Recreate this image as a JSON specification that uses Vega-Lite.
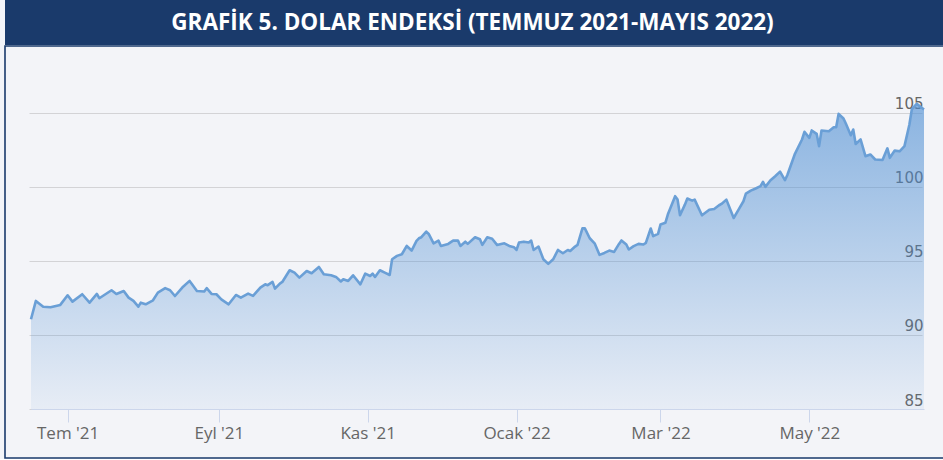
{
  "$schema": "https://vega.github.io/schema/vega-lite/v6.json",
  "background": "#f3f4f8",
  "padding": {"left": 4, "top": 0, "right": 0, "bottom": 0},
  "spacing": 0,
  "vconcat": [
    {
      "width": 943,
      "height": 45,
      "view": {"fill": "#1a3a6b", "stroke": null},
      "data": {"values": [{"t": "GRAFİK 5. DOLAR ENDEKSİ (TEMMUZ 2021-MAYIS 2022)"}]},
      "mark": {"type": "text", "color": "#ffffff", "font": "Open Sans", "fontWeight": "bold", "fontSize": 22.5, "baseline": "middle", "align": "center", "dx": -4},
      "encoding": {"text": {"field": "t"}}
    },
    {
      "width": 943,
      "height": 412,
      "view": {"stroke": "#1a3a6b", "strokeWidth": 1.6, "fill": null},
      "data": {"values": [
        {"d": "2021-06-16", "v": 91.06}, {"d": "2021-06-18", "v": 92.30}, {"d": "2021-06-21", "v": 91.90}, {"d": "2021-06-24", "v": 91.87},
        {"d": "2021-06-28", "v": 92.03}, {"d": "2021-07-01", "v": 92.68}, {"d": "2021-07-03", "v": 92.25}, {"d": "2021-07-07", "v": 92.75},
        {"d": "2021-07-10", "v": 92.18}, {"d": "2021-07-13", "v": 92.77}, {"d": "2021-07-14", "v": 92.48}, {"d": "2021-07-19", "v": 93.02},
        {"d": "2021-07-21", "v": 92.77}, {"d": "2021-07-24", "v": 92.97}, {"d": "2021-07-26", "v": 92.52}, {"d": "2021-07-28", "v": 92.30},
        {"d": "2021-07-30", "v": 91.91}, {"d": "2021-07-31", "v": 92.18}, {"d": "2021-08-02", "v": 92.07}, {"d": "2021-08-05", "v": 92.34},
        {"d": "2021-08-07", "v": 92.86}, {"d": "2021-08-10", "v": 93.16}, {"d": "2021-08-12", "v": 93.02}, {"d": "2021-08-14", "v": 92.63},
        {"d": "2021-08-17", "v": 93.20}, {"d": "2021-08-20", "v": 93.65}, {"d": "2021-08-21", "v": 93.43}, {"d": "2021-08-23", "v": 92.97},
        {"d": "2021-08-26", "v": 92.93}, {"d": "2021-08-27", "v": 93.16}, {"d": "2021-08-29", "v": 92.77}, {"d": "2021-08-31", "v": 92.75},
        {"d": "2021-09-02", "v": 92.40}, {"d": "2021-09-05", "v": 92.07}, {"d": "2021-09-08", "v": 92.70}, {"d": "2021-09-10", "v": 92.52},
        {"d": "2021-09-13", "v": 92.79}, {"d": "2021-09-15", "v": 92.64}, {"d": "2021-09-18", "v": 93.20}, {"d": "2021-09-20", "v": 93.42},
        {"d": "2021-09-21", "v": 93.36}, {"d": "2021-09-23", "v": 93.58}, {"d": "2021-09-24", "v": 93.13}, {"d": "2021-09-26", "v": 93.47},
        {"d": "2021-09-27", "v": 93.58}, {"d": "2021-09-30", "v": 94.37}, {"d": "2021-10-02", "v": 94.21}, {"d": "2021-10-04", "v": 93.87},
        {"d": "2021-10-07", "v": 94.32}, {"d": "2021-10-09", "v": 94.17}, {"d": "2021-10-12", "v": 94.59}, {"d": "2021-10-14", "v": 94.10},
        {"d": "2021-10-17", "v": 94.03}, {"d": "2021-10-19", "v": 93.92}, {"d": "2021-10-21", "v": 93.61}, {"d": "2021-10-22", "v": 93.76},
        {"d": "2021-10-24", "v": 93.65}, {"d": "2021-10-26", "v": 94.03}, {"d": "2021-10-29", "v": 93.42}, {"d": "2021-10-31", "v": 94.14},
        {"d": "2021-11-02", "v": 93.98}, {"d": "2021-11-03", "v": 94.14}, {"d": "2021-11-04", "v": 93.92}, {"d": "2021-11-06", "v": 94.37},
        {"d": "2021-11-08", "v": 94.21}, {"d": "2021-11-10", "v": 94.05}, {"d": "2021-11-11", "v": 95.11}, {"d": "2021-11-13", "v": 95.34},
        {"d": "2021-11-15", "v": 95.45}, {"d": "2021-11-17", "v": 96.01}, {"d": "2021-11-19", "v": 95.70}, {"d": "2021-11-21", "v": 96.35},
        {"d": "2021-11-22", "v": 96.53}, {"d": "2021-11-23", "v": 96.60}, {"d": "2021-11-25", "v": 96.98}, {"d": "2021-11-26", "v": 96.82},
        {"d": "2021-11-28", "v": 96.19}, {"d": "2021-11-30", "v": 96.37}, {"d": "2021-12-01", "v": 96.01}, {"d": "2021-12-04", "v": 96.15},
        {"d": "2021-12-06", "v": 96.37}, {"d": "2021-12-08", "v": 96.37}, {"d": "2021-12-09", "v": 96.01}, {"d": "2021-12-11", "v": 96.30},
        {"d": "2021-12-12", "v": 96.15}, {"d": "2021-12-15", "v": 96.60}, {"d": "2021-12-17", "v": 96.46}, {"d": "2021-12-18", "v": 96.08},
        {"d": "2021-12-20", "v": 96.60}, {"d": "2021-12-22", "v": 96.50}, {"d": "2021-12-24", "v": 96.08}, {"d": "2021-12-27", "v": 96.19},
        {"d": "2021-12-29", "v": 96.01}, {"d": "2021-12-31", "v": 95.92}, {"d": "2022-01-01", "v": 95.74}, {"d": "2022-01-02", "v": 96.24},
        {"d": "2022-01-04", "v": 96.30}, {"d": "2022-01-06", "v": 96.24}, {"d": "2022-01-07", "v": 96.37}, {"d": "2022-01-08", "v": 95.74},
        {"d": "2022-01-10", "v": 95.97}, {"d": "2022-01-12", "v": 95.11}, {"d": "2022-01-14", "v": 94.80}, {"d": "2022-01-16", "v": 95.11},
        {"d": "2022-01-18", "v": 95.74}, {"d": "2022-01-20", "v": 95.52}, {"d": "2022-01-22", "v": 95.74}, {"d": "2022-01-23", "v": 95.67},
        {"d": "2022-01-25", "v": 95.97}, {"d": "2022-01-26", "v": 96.08}, {"d": "2022-01-28", "v": 97.20}, {"d": "2022-01-29", "v": 97.20},
        {"d": "2022-01-31", "v": 96.53}, {"d": "2022-02-02", "v": 96.19}, {"d": "2022-02-04", "v": 95.41}, {"d": "2022-02-06", "v": 95.54},
        {"d": "2022-02-08", "v": 95.70}, {"d": "2022-02-10", "v": 95.61}, {"d": "2022-02-12", "v": 96.15}, {"d": "2022-02-13", "v": 96.38},
        {"d": "2022-02-15", "v": 96.11}, {"d": "2022-02-16", "v": 95.77}, {"d": "2022-02-18", "v": 96.00}, {"d": "2022-02-20", "v": 96.15},
        {"d": "2022-02-22", "v": 96.11}, {"d": "2022-02-23", "v": 96.22}, {"d": "2022-02-25", "v": 97.19}, {"d": "2022-02-26", "v": 96.67},
        {"d": "2022-02-28", "v": 96.83}, {"d": "2022-03-01", "v": 97.46}, {"d": "2022-03-03", "v": 97.57}, {"d": "2022-03-04", "v": 98.13},
        {"d": "2022-03-07", "v": 99.37}, {"d": "2022-03-08", "v": 99.14}, {"d": "2022-03-09", "v": 98.08}, {"d": "2022-03-11", "v": 98.80},
        {"d": "2022-03-12", "v": 99.21}, {"d": "2022-03-14", "v": 99.07}, {"d": "2022-03-15", "v": 99.14}, {"d": "2022-03-18", "v": 98.08},
        {"d": "2022-03-21", "v": 98.46}, {"d": "2022-03-23", "v": 98.51}, {"d": "2022-03-25", "v": 98.76}, {"d": "2022-03-26", "v": 98.85},
        {"d": "2022-03-28", "v": 99.14}, {"d": "2022-03-31", "v": 97.90}, {"d": "2022-04-02", "v": 98.46}, {"d": "2022-04-04", "v": 99.03},
        {"d": "2022-04-05", "v": 99.55}, {"d": "2022-04-07", "v": 99.75}, {"d": "2022-04-09", "v": 99.89}, {"d": "2022-04-11", "v": 100.05},
        {"d": "2022-04-12", "v": 100.34}, {"d": "2022-04-13", "v": 100.00}, {"d": "2022-04-15", "v": 100.43}, {"d": "2022-04-17", "v": 100.72},
        {"d": "2022-04-19", "v": 101.03}, {"d": "2022-04-21", "v": 100.45}, {"d": "2022-04-22", "v": 100.80}, {"d": "2022-04-25", "v": 102.19},
        {"d": "2022-04-28", "v": 103.20}, {"d": "2022-04-29", "v": 103.72}, {"d": "2022-05-01", "v": 103.31}, {"d": "2022-05-02", "v": 103.81},
        {"d": "2022-05-04", "v": 103.58}, {"d": "2022-05-05", "v": 102.75}, {"d": "2022-05-06", "v": 103.81}, {"d": "2022-05-09", "v": 103.76},
        {"d": "2022-05-11", "v": 104.03}, {"d": "2022-05-12", "v": 104.03}, {"d": "2022-05-13", "v": 104.93}, {"d": "2022-05-15", "v": 104.62},
        {"d": "2022-05-16", "v": 104.26}, {"d": "2022-05-18", "v": 103.49}, {"d": "2022-05-19", "v": 103.87}, {"d": "2022-05-20", "v": 102.90},
        {"d": "2022-05-22", "v": 103.20}, {"d": "2022-05-24", "v": 102.07}, {"d": "2022-05-26", "v": 102.19}, {"d": "2022-05-28", "v": 101.85},
        {"d": "2022-05-31", "v": 101.81}, {"d": "2022-06-02", "v": 102.60}, {"d": "2022-06-03", "v": 101.96}, {"d": "2022-06-05", "v": 102.45},
        {"d": "2022-06-07", "v": 102.40}, {"d": "2022-06-09", "v": 102.75}, {"d": "2022-06-11", "v": 104.20}, {"d": "2022-06-12", "v": 105.23},
        {"d": "2022-06-14", "v": 105.61}, {"d": "2022-06-17", "v": 105.23}
      ]},
      "encoding": {
        "x": {
          "field": "d", "type": "temporal",
          "scale": {"type": "utc", "domain": [{"year": 2021, "month": 6, "date": 16, "utc": true}, {"year": 2022, "month": 6, "date": 17, "utc": true}], "nice": false, "range": [26, 919]},
          "axis": {
            "orient": "bottom", "title": null, "grid": false, "offset": -49,
            "values": [
              {"year": 2021, "month": 7, "date": 1, "utc": true},
              {"year": 2021, "month": 9, "date": 1, "utc": true},
              {"year": 2021, "month": 11, "date": 1, "utc": true},
              {"year": 2022, "month": 1, "date": 1, "utc": true},
              {"year": 2022, "month": 3, "date": 1, "utc": true},
              {"year": 2022, "month": 5, "date": 1, "utc": true}
            ],
            "labelExpr": "['Ocak','Şub','Mar','Nis','May','Haz','Tem','Ağu','Eyl','Eki','Kas','Ara'][utcmonth(datum.value)] + \" '\" + utcFormat(datum.value, '%y')",
            "domainColor": "#ccd6eb", "domainWidth": 1,
            "tickColor": "#ccd6eb", "tickSize": 13, "tickWidth": 1,
            "labelFont": "Open Sans", "labelFontSize": 17, "labelColor": "#666666",
            "labelBaseline": "alphabetic", "labelPadding": 16,
            "labelFlush": false, "labelOverlap": false,
            "minExtent": 0, "maxExtent": 0
          }
        },
        "y": {
          "field": "v", "type": "quantitative", "stack": null,
          "scale": {"domain": [85, 108.5], "nice": false, "zero": false, "range": [363, 15]},
          "axis": {
            "orient": "right", "title": null,
            "values": [85, 90, 95, 100, 105],
            "grid": true, "gridColor": "#d3d3d6", "gridWidth": 1.2,
            "domain": false, "ticks": false, "tickSize": 0,
            "labelAlign": "right", "labelPadding": -25, "labelBaseline": "alphabetic", "labelOffset": -4,
            "labelFont": "DejaVu Sans", "labelFontSize": 15, "labelColor": "#666666",
            "labelFlush": false, "labelOverlap": false,
            "minExtent": 0, "maxExtent": 0
          }
        }
      },
      "layer": [
        {
          "mark": {
            "type": "area",
            "opacity": 1,
            "fill": {
              "gradient": "linear", "x1": 0, "x2": 0, "y1": 0, "y2": 1,
              "stops": [
                {"offset": 0, "color": "rgba(74,140,210,0.62)"},
                {"offset": 1, "color": "rgba(74,140,210,0.07)"}
              ]
            }
          },
          "encoding": {"y2": {"datum": 85}}
        },
        {
          "mark": {"type": "line", "color": "#6a9fd6", "strokeWidth": 2.6, "strokeJoin": "round"}
        }
      ]
    }
  ]
}
